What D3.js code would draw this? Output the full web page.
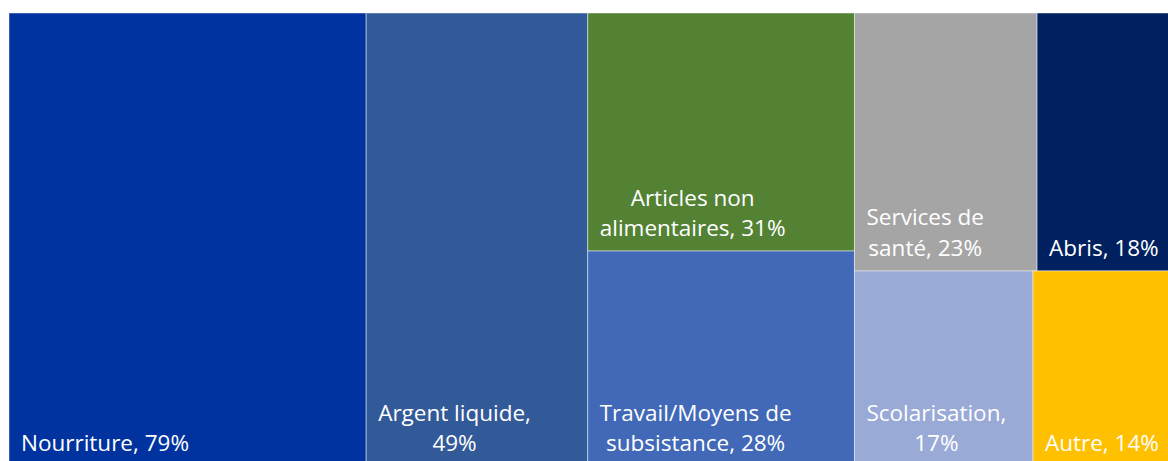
<!DOCTYPE html>
<html><head><meta charset="utf-8">
<script src="https://cdn.jsdelivr.net/npm/d3@7"></script>
<style>body{margin:0;background:#fff}svg{display:block}</style>
</head><body>
<svg id="c" width="1168" height="461"></svg>
<script>
const categories = ["Nourriture","Argent liquide","Articles non alimentaires","Travail/Moyens de subsistance","Services de santé","Abris","Scolarisation","Autre"];
const values = [79,49,31,28,23,18,17,14];
const colors = ["#0033A0","#335A98","#548235","#4169B8","#A5A5A5","#002060","#99AAD6","#FFC000"];
const labelLines = [
  ["Nourriture, 79%"],
  ["Argent liquide,","49%"],
  ["Articles non","alimentaires, 31%"],
  ["Travail/Moyens de","subsistance, 28%"],
  ["Services de","santé, 23%"],
  ["Abris, 18%"],
  ["Scolarisation,","17%"],
  ["Autre, 14%"]
];

const svg = d3.select("#c");
const mLeft = 9, mTop = 13, W = 1171, H = 453;
const rootData = {children: categories.map((c,i)=>({name:c, value:values[i], color:colors[i], lines:labelLines[i]}))};
const root = d3.hierarchy(rootData).sum(d=>d.value||0).sort((a,b)=>b.value-a.value);
d3.treemap().size([W,H]).tile(d3.treemapSquarify.ratio(1)).round(false)(root);

const g = svg.append("g").attr("transform",`translate(${mLeft},${mTop})`);
const cell = g.selectAll("g.cell").data(root.leaves()).join("g").attr("class","cell");
cell.append("rect")
  .attr("x",d=>d.x0).attr("y",d=>d.y0)
  .attr("width",d=>d.x1-d.x0).attr("height",d=>d.y1-d.y0)
  .attr("fill",d=>d.data.color)
  .attr("stroke","rgba(255,255,255,0.45)").attr("stroke-width",1);

const fs = 22.5, lh = 30.5;
cell.each(function(d){
  const sel = d3.select(this);
  const t = sel.append("text")
    .attr("font-family","'Segoe UI','Open Sans','Noto Sans',sans-serif")
    .attr("font-size",fs).attr("fill","#fff").attr("text-anchor","middle");
  const lines = d.data.lines;
  const ts = lines.map((l,i)=>t.append("tspan").text(l));
  const wmax = d3.max(ts, s=>s.node().getComputedTextLength());
  const cx = d.x0 + 12 + wmax/2;
  const yLast = Math.min(d.y1 - 15, 455 - mTop);
  ts.forEach((s,i)=>s.attr("x",cx).attr("y", yLast - (lines.length-1-i)*lh));
});
</script>
</body></html>
